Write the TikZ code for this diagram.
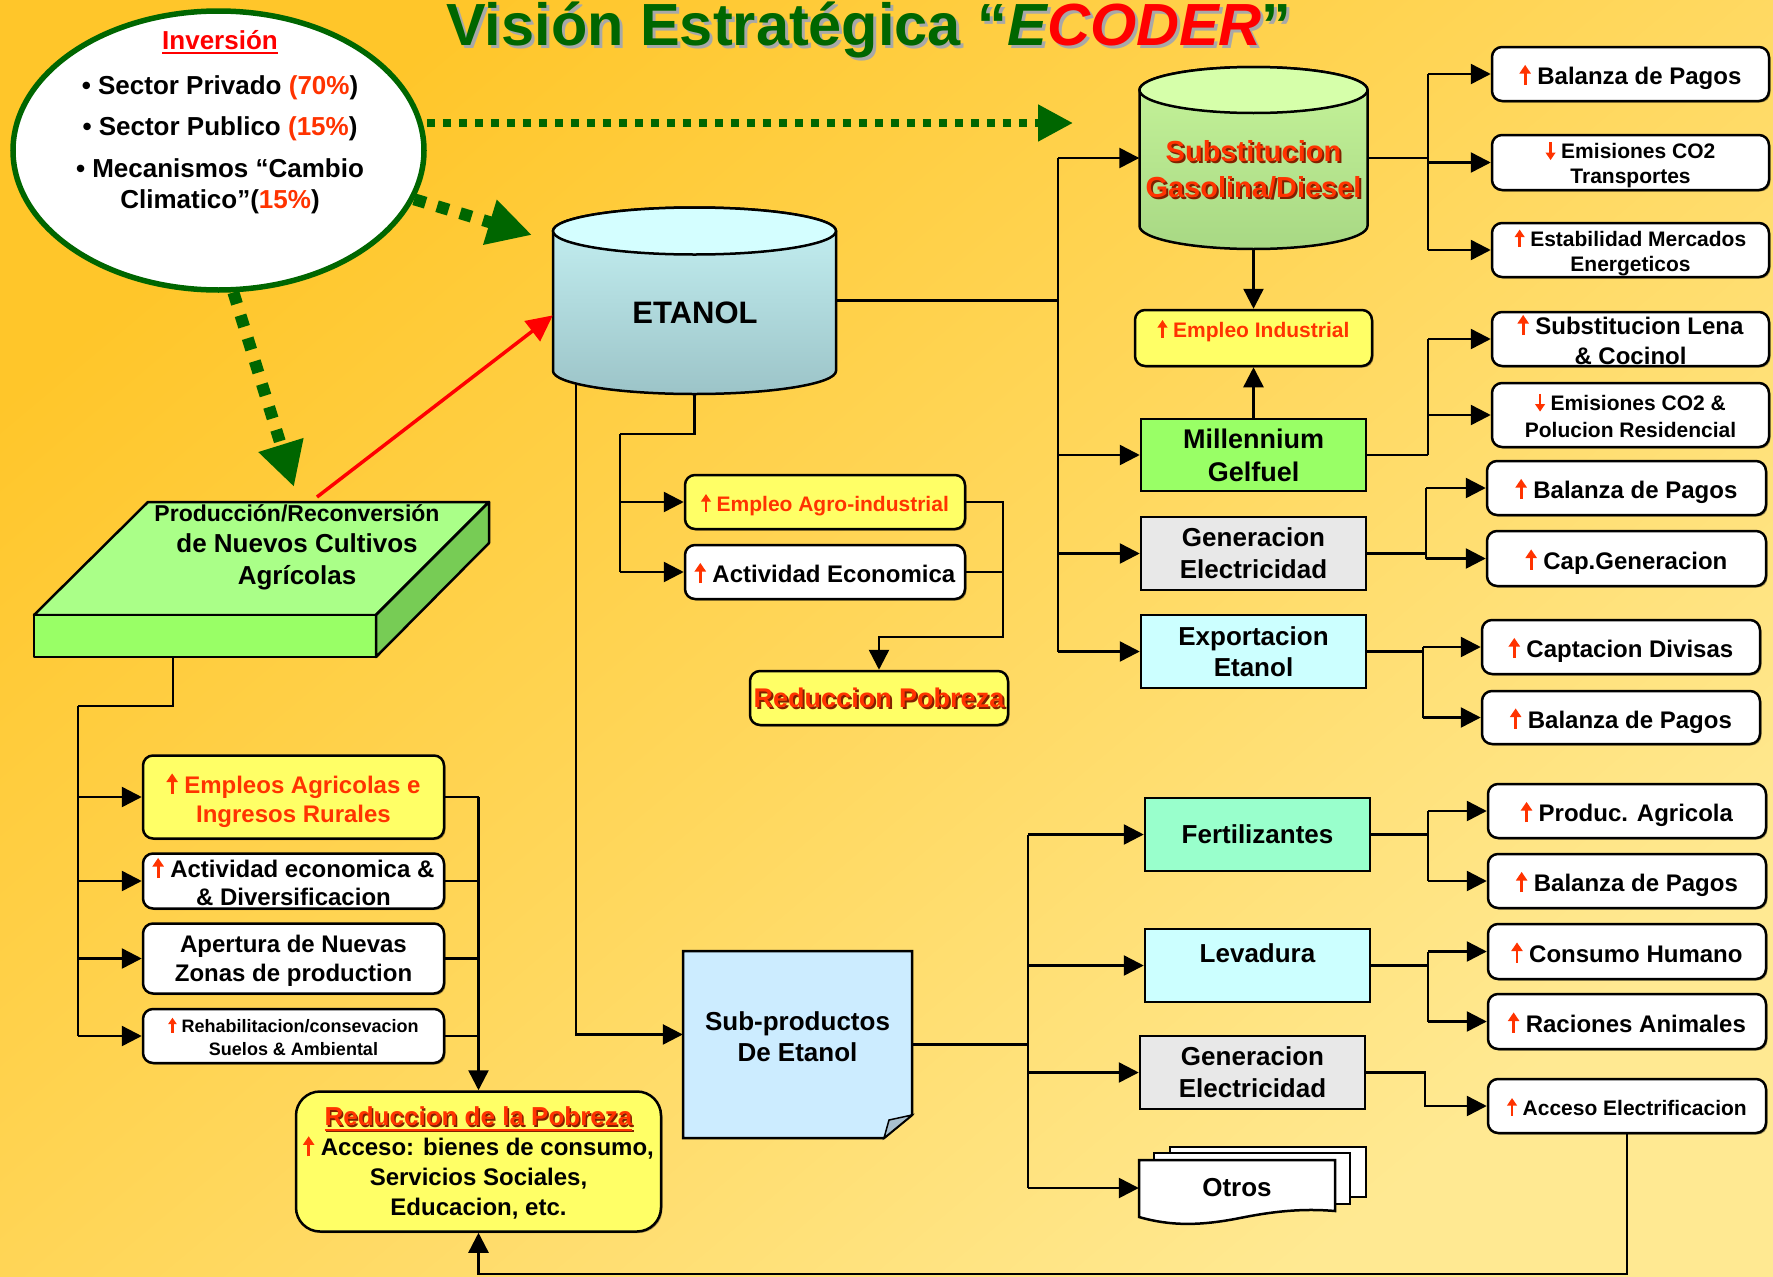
\documentclass[tikz,border=0pt]{standalone}
\usepackage{fontspec}
\setmainfont{Liberation Sans}
\usetikzlibrary{arrows.meta,shapes.geometric,shadows,calc}

\definecolor{bgA}{HTML}{FFC62A}
\definecolor{bgB}{HTML}{FFD75C}
\definecolor{bgC}{HTML}{FFE992}
\definecolor{grn}{HTML}{006600}
\definecolor{pureR}{HTML}{FF0000}
\definecolor{orR}{HTML}{FF3300}
\definecolor{yelbox}{HTML}{FFFF66}
\definecolor{millG}{HTML}{99FF66}
\definecolor{grayB}{HTML}{E8E8E8}
\definecolor{cyanB}{HTML}{CCFFFF}
\definecolor{fertG}{HTML}{99FFCC}
\definecolor{subB}{HTML}{CCECFF}
\definecolor{prodTop}{HTML}{AAFF88}
\definecolor{prodFront}{HTML}{99FF66}
\definecolor{prodSide}{HTML}{77CC55}
\definecolor{etTop}{HTML}{D4FEFF}
\definecolor{etA}{HTML}{C6F2F4}
\definecolor{etB}{HTML}{9CC4C8}
\definecolor{gsTop}{HTML}{D6FFAA}
\definecolor{gsA}{HTML}{C6F49A}
\definecolor{gsB}{HTML}{A8D884}
\definecolor{titShd}{HTML}{A8A8A8}
\definecolor{redShd}{HTML}{802000}
\definecolor{foldC}{HTML}{A8C0D0}

% font size + bold
\newcommand\fs[2]{\fontsize{#1}{#2}\selectfont\bfseries}
% thin red up / down arrows in front of labels
\newcommand\up{\tikz[baseline=0pt,x=1pt,y=1pt]\draw[draw=orR,line width=0.12em,
  -{Triangle[length=0.36em,width=0.46em]}] (0,-0.02em) -- (0,0.82em);}
\newcommand\dn{\tikz[baseline=0pt,x=1pt,y=1pt]\draw[draw=orR,line width=0.12em,
  -{Triangle[length=0.36em,width=0.46em]}] (0,0.78em) -- (0,-0.06em);}
% text with an offset shadow: #1 offset, #2 shadow colour, #3 text
\newcommand\shtext[3]{\makebox[0pt][l]{\kern#1\raisebox{-#1}{\textcolor{#2}{#3}}}#3}
% underlined text: #1 depth of the rule, #2 text
\newcommand\ulin[2]{\setbox0\hbox{#2}\makebox[0pt][l]{\raisebox{-#1}{\rule{\wd0}{2.2pt}}}\box0}
% title text, #1 colour of CODER
\newcommand\titletext[1]{Visión Estratégica “\textit{E\textcolor{#1}{CODER}}”}

\begin{document}
\begin{tikzpicture}[x=1pt,y=-1pt,
  conn/.style={draw=black,line width=2.5pt},
  arr/.style={conn,-{Triangle[length=20pt,width=20pt]}},
  box/.style={draw=black,line width=2.5pt,align=center,inner sep=0pt,text depth=0pt},
  rbox/.style={box,rounded corners=10pt,fill=white,
    drop shadow={shadow xshift=1.5pt,shadow yshift=-1.5pt,opacity=.35,fill=black}},
  plain/.style={inner sep=0pt,minimum width=#1},
  dotH/.style={draw=grn,line width=8pt,dash pattern=on 8pt off 8pt,
    -{Triangle[length=35pt,width=35pt]}},
  dotD/.style={draw=grn,line width=12pt,dash pattern=on 12pt off 12pt,
    -{Triangle[length=44pt,width=44pt]}},
  redarr/.style={draw=pureR,line width=3.5pt,-{Triangle[length=26pt,width=25pt]}}
]
\useasboundingbox (0,0) rectangle (1773,1277);
\shade[top color=bgA,bottom color=bgC,middle color=bgB,shading angle=40]
  (0,0) rectangle (1773,1277);

% ---------- title ----------
\node[anchor=base,font=\fs{59.5}{64},text=titShd,inner sep=0] (titleshd) at (872,48) {\titletext{titShd}};
\node[anchor=base,font=\fs{59.5}{64},text=grn,inner sep=0] (title) at (869,45) {\titletext{pureR}};

% ---------- investment ellipse ----------
\node[ellipse,draw=grn,line width=5.5pt,fill=white,minimum width=411pt,
  minimum height=279pt,inner sep=0] (inv) at (218.5,150.5) {};
\node[anchor=base,font=\fs{26}{30},text=pureR] (invT) at (220,49) {\ulin{5pt}{Inversión}};
\node[anchor=base,font=\fs{26}{30}] (inv1) at (220,94) {• Sector Privado \textcolor{orR}{(70\%})};
\node[anchor=base,font=\fs{26}{30}] (inv2) at (220,135) {• Sector Publico \textcolor{orR}{(15\%})};
\node[anchor=base,font=\fs{26}{30}] (inv3) at (220,177) {• Mecanismos “Cambio};
\node[anchor=base,font=\fs{26}{30}] (inv4) at (220,208) {Climatico”(\textcolor{orR}{15\%})};

% ---------- ETANOL tank ----------
\shadedraw[line width=2.5pt,top color=etA,bottom color=etB]
  (553,231) -- (553,371) arc[start angle=180,end angle=0,x radius=141.5,y radius=23]
  -- (836,231) arc[start angle=0,end angle=-180,x radius=141.5,y radius=23.5] -- cycle;
\draw[line width=2.5pt,fill=etTop] (694.5,231) ellipse[x radius=141.5,y radius=23.5];
\node[plain=283pt,minimum height=187pt] (etanol) at (694.5,300.5) {};
\node[font=\fs{31}{36}] (etanolT) at (695,313) {ETANOL};

% ---------- gasoline / diesel tank ----------
\shadedraw[line width=2.5pt,top color=gsA,bottom color=gsB]
  (1139.5,90) -- (1139.5,226) arc[start angle=180,end angle=0,x radius=114,y radius=23]
  -- (1367.5,90) arc[start angle=0,end angle=-180,x radius=114,y radius=23] -- cycle;
\draw[line width=2.5pt,fill=gsTop] (1253.5,90) ellipse[x radius=114,y radius=23];
\node[plain=228pt,minimum height=182pt] (subs) at (1253.5,158) {};
\node[font=\fs{29}{36},text=orR,align=center] (subsT) at (1253.5,170)
  {\shtext{2pt}{redShd}{Substitucion}\\\shtext{2pt}{redShd}{Gasolina/Diesel}};

% ---------- crops slab ----------
\draw[line width=2.5pt,line join=round,fill=prodTop] (148,502) -- (489,502) -- (376,615) -- (34,615) -- cycle;
\draw[line width=2.5pt,line join=round,fill=prodFront] (34,615) rectangle (376,657);
\draw[line width=2.5pt,line join=round,fill=prodSide] (376,615) -- (489,502) -- (489,543) -- (376,657) -- cycle;
\node[font=\fs{26}{31.5},align=center] (prodT) at (297,547)
  {{\fontsize{23}{31.5}\selectfont Producción/Reconversión}\\de Nuevos Cultivos\\Agrícolas};
\coordinate (pb) at (173,657);
\coordinate (prodtop) at (317,497);

% ---------- by-products sheet ----------
\draw[line width=2.5pt,fill=subB] (683,951) -- (912,951) -- (912,1115) -- (884,1138) -- (683,1138) -- cycle;
\draw[line width=1.5pt,fill=foldC] (912,1115) -- (889,1120) -- (884,1138) -- cycle;
\node[plain=229pt,minimum height=187pt] (sub) at (797.5,1044.5) {};
\node[font=\fs{26}{31},align=center] (subT) at (797.5,1037) {Sub-productos\\De Etanol};

% ---------- "Otros" stack ----------
\draw[line width=2pt,fill=white] (1170,1147) rectangle (1366,1197);
\draw[line width=2pt,fill=white] (1154,1153) rectangle (1350,1204);
\draw[line width=2.5pt,fill=white] (1139,1160) -- (1335,1160) -- (1335,1211)
  .. controls (1300,1208) and (1270,1212) .. (1240,1218)
  .. controls (1200,1226) and (1170,1226) .. (1139,1217) -- cycle;
\node[plain=196pt,minimum height=57pt,font=\fs{26}{31}] (otros) at (1237,1188) {Otros};

% ---------- left column ----------
\node[rbox,fill=yelbox,text=orR,minimum width=301pt,minimum height=83pt,font=\fs{24}{29}]
  (eag) at (293.5,797) {\up\ Empleos Agricolas e\\Ingresos Rurales};
\node[rbox,minimum width=301pt,minimum height=55pt,font=\fs{24}{28}]
  (aec) at (293.5,881) {\up\ Actividad economica \&\\\& Diversificacion};
\node[rbox,minimum width=301pt,minimum height=70pt,font=\fs{24}{29}]
  (ape) at (293.5,958.5) {Apertura de Nuevas\\Zonas de production};
\node[rbox,minimum width=301pt,minimum height=54pt,font=\fs{18}{23}]
  (reh) at (293.5,1036) {\up\ Rehabilitacion/consevacion\\Suelos \& Ambiental};
\node[rbox,fill=yelbox,rounded corners=24pt,minimum width=365pt,minimum height=140pt,font=\fs{24}{30}]
  (red2) at (478.5,1161.5)
  {{\fs{26}{30}\color{orR}\shtext{1.5pt}{redShd}{\ulin{5pt}{Reduccion de la Pobreza}}}\\
   \up\ Acceso: bienes de consumo,\\Servicios Sociales,\\Educacion, etc.};

% ---------- centre column ----------
\node[rbox,fill=yelbox,text=orR,minimum width=280pt,minimum height=54pt,font=\fs{21}{25}]
  (agro) at (825,502) {\up\ Empleo Agro-industrial};
\node[rbox,minimum width=280pt,minimum height=54pt,font=\fs{24}{28}]
  (act) at (825,572) {\up\ Actividad Economica};
\node[rbox,fill=yelbox,minimum width=258pt,minimum height=54pt,font=\fs{27}{31}]
  (redp) at (879,698) {\textcolor{orR}{\shtext{2pt}{redShd}{Reduccion Pobreza}}};

% ---------- ethanol uses ----------
\node[rbox,fill=yelbox,minimum width=237pt,minimum height=56pt] (empind) at (1253.5,338) {};
\node[font=\fs{21}{25},text=orR,text depth=0pt] (empindT) at (1253.5,328) {\up\ Empleo Industrial};
\node[box,fill=millG,minimum width=225pt,minimum height=72pt,font=\fs{27}{33}]
  (mill) at (1253.5,455) {Millennium\\Gelfuel};
\node[box,fill=grayB,minimum width=225pt,minimum height=73pt,font=\fs{26}{32}]
  (gen1) at (1253.5,553.5) {Generacion\\Electricidad};
\node[box,fill=cyanB,minimum width=225pt,minimum height=73pt,font=\fs{26}{31}]
  (exp) at (1253.5,651.5) {Exportacion\\Etanol};

% ---------- by-product uses ----------
\node[box,fill=fertG,minimum width=225pt,minimum height=73pt,font=\fs{26}{31}]
  (fert) at (1257.5,834.5) {Fertilizantes};
\node[box,fill=cyanB,minimum width=225pt,minimum height=73pt] (lev) at (1257.5,965.5) {};
\node[font=\fs{26}{31}] (levT) at (1257.5,953) {Levadura};
\node[box,fill=grayB,minimum width=225pt,minimum height=73pt,font=\fs{26}{32}]
  (gen2) at (1252.5,1072.5) {Generacion\\Electricidad};

% ---------- right column of effects ----------
\node[rbox,minimum width=277pt,minimum height=54pt,font=\fs{24}{29}] (bp1) at (1630.5,74) {\up\ Balanza de Pagos};
\node[rbox,minimum width=277pt,minimum height=55pt,font=\fs{21}{25}] (em1) at (1630.5,162.5) {\dn\ Emisiones CO2\\Transportes};
\node[rbox,minimum width=277pt,minimum height=54pt,font=\fs{21}{25}] (est) at (1630.5,250) {\up\ Estabilidad Mercados\\Energeticos};
\node[rbox,minimum width=277pt,minimum height=54pt,font=\fs{24}{30}] (len) at (1630.5,339) {\up\ Substitucion Lena\\\& Cocinol};
\node[rbox,minimum width=277pt,minimum height=64pt,font=\fs{21}{27}] (em2) at (1630.5,415) {\dn\ Emisiones CO2 \&\\Polucion Residencial};
\node[rbox,minimum width=279pt,minimum height=54pt,font=\fs{24}{29}] (bp2) at (1626.5,488) {\up\ Balanza de Pagos};
\node[rbox,minimum width=279pt,minimum height=55pt,font=\fs{24}{29}] (cap) at (1626.5,558.5) {\up\ Cap.Generacion};
\node[rbox,minimum width=278pt,minimum height=54pt,font=\fs{24}{29}] (div) at (1621,647) {\up\ Captacion Divisas};
\node[rbox,minimum width=278pt,minimum height=53pt,font=\fs{24}{29}] (bp3) at (1621,717.5) {\up\ Balanza de Pagos};
\node[rbox,minimum width=278pt,minimum height=54pt,font=\fs{24}{29}] (prod) at (1627,811) {\up\ Produc. Agricola};
\node[rbox,minimum width=278pt,minimum height=54pt,font=\fs{24}{29}] (bp4) at (1627,881) {\up\ Balanza de Pagos};
\node[rbox,minimum width=278pt,minimum height=55pt,font=\fs{24}{29}] (cons) at (1627,951.5) {\up\ Consumo Humano};
\node[rbox,minimum width=278pt,minimum height=55pt,font=\fs{24}{29}] (rac) at (1627,1021.5) {\up\ Raciones Animales};
\node[rbox,minimum width=278pt,minimum height=54pt,font=\fs{21}{25}] (acc) at (1627,1106) {\up\ Acceso Electrificacion};

% ---------- junction points ----------
\coordinate (busT) at (1058,158);
\coordinate (busB) at (1058,651.5);
\coordinate (j1) at (1428,0);
\coordinate (j2) at (1426,0);
\coordinate (j3) at (1423,0);
\coordinate (j5) at (620,434);
\coordinate (etl) at (576,384);
\coordinate (j7) at (78,706);
\coordinate (j8) at (478.5,0);
\coordinate (j9) at (1003,0);
\coordinate (j10) at (879,637);
\coordinate (j11) at (1028,0);
\coordinate (j12) at (1428,0);
\coordinate (j13) at (1425,0);
\coordinate (j14) at (478.5,1274);
\coordinate (hdE) at (1073,123);
\coordinate (etE) at (532,235);
\coordinate (prE) at (294,487);

% ---------- investment flows ----------
\draw[dotH] (inv.east |- hdE) -- (hdE);
\draw[dotD] (inv.-14) -- (etE);
\draw[dotD] (inv.-84) -- (prE);
\draw[redarr] (prodtop) -- (etanol.186);

% ---------- ETANOL outputs ----------
\draw[conn] (etanol.east) -- (etanol.east -| busT);
\draw[conn] (busT) -- (busB);
\draw[arr] (busT) -- (subs.west);
\draw[arr] (busT |- mill.west) -- (mill.west);
\draw[arr] (busT |- gen1.west) -- (gen1.west);
\draw[arr] (busB) -- (exp.west);
\draw[arr] (subs.south) -- (empind.north);
\draw[arr] (mill.north) -- (empind.south);

\draw[conn] (etanol.south) |- (j5);
\draw[conn] (j5) -- (j5 |- act.west);
\draw[arr] (j5 |- agro.west) -- (agro.west);
\draw[arr] (j5 |- act.west) -- (act.west);
\draw[conn] (act.east) -- (act.east -| j9);
\draw[arr] (agro.east) -| (j9 |- j10) -- (j10) -- (redp.north);

\draw[arr] (etl) |- (sub.175);

% ---------- effects of the ethanol uses ----------
\draw[conn] (subs.east) -- (subs.east -| j1);
\draw[conn] (j1 |- bp1.west) -- (j1 |- est.west);
\draw[arr] (j1 |- bp1.west) -- (bp1.west);
\draw[arr] (j1 |- em1.west) -- (em1.west);
\draw[arr] (j1 |- est.west) -- (est.west);

\draw[conn] (mill.east) -- (mill.east -| j1);
\draw[conn] (j1 |- len.west) -- (j1 |- mill.east);
\draw[arr] (j1 |- len.west) -- (len.west);
\draw[arr] (j1 |- em2.west) -- (em2.west);

\draw[conn] (gen1.east) -- (gen1.east -| j2);
\draw[conn] (j2 |- bp2.west) -- (j2 |- cap.west);
\draw[arr] (j2 |- bp2.west) -- (bp2.west);
\draw[arr] (j2 |- cap.west) -- (cap.west);

\draw[conn] (exp.east) -- (exp.east -| j3);
\draw[conn] (j3 |- div.west) -- (j3 |- bp3.west);
\draw[arr] (j3 |- div.west) -- (div.west);
\draw[arr] (j3 |- bp3.west) -- (bp3.west);

% ---------- by-products ----------
\draw[conn] (sub.east) -- (sub.east -| j11);
\draw[conn] (j11 |- fert.west) -- (j11 |- otros.west);
\draw[arr] (j11 |- fert.west) -- (fert.west);
\draw[arr] (j11 |- lev.west) -- (lev.west);
\draw[arr] (j11 |- gen2.west) -- (gen2.west);
\draw[arr] (j11 |- otros.west) -- (otros.west);

\draw[conn] (fert.east) -- (fert.east -| j12);
\draw[conn] (j12 |- prod.west) -- (j12 |- bp4.west);
\draw[arr] (j12 |- prod.west) -- (prod.west);
\draw[arr] (j12 |- bp4.west) -- (bp4.west);

\draw[conn] (lev.east) -- (lev.east -| j12);
\draw[conn] (j12 |- cons.west) -- (j12 |- rac.west);
\draw[arr] (j12 |- cons.west) -- (cons.west);
\draw[arr] (j12 |- rac.west) -- (rac.west);

\draw[arr] (gen2.east) -- (gen2.east -| j13) |- (acc.west);
\draw[arr] (acc.south) |- (j14) -- (red2.south);

% ---------- crops slab outputs ----------
\draw[conn] (pb) |- (j7);
\draw[conn] (j7) -- (j7 |- reh.west);
\draw[arr] (j7 |- eag.west) -- (eag.west);
\draw[arr] (j7 |- aec.west) -- (aec.west);
\draw[arr] (j7 |- ape.west) -- (ape.west);
\draw[arr] (j7 |- reh.west) -- (reh.west);

\draw[conn] (eag.east) -- (eag.east -| j8);
\draw[conn] (aec.east) -- (aec.east -| j8);
\draw[conn] (ape.east) -- (ape.east -| j8);
\draw[conn] (reh.east) -- (reh.east -| j8);
\draw[arr] (eag.east -| j8) -- (red2.north);
\end{tikzpicture}
\end{document}
